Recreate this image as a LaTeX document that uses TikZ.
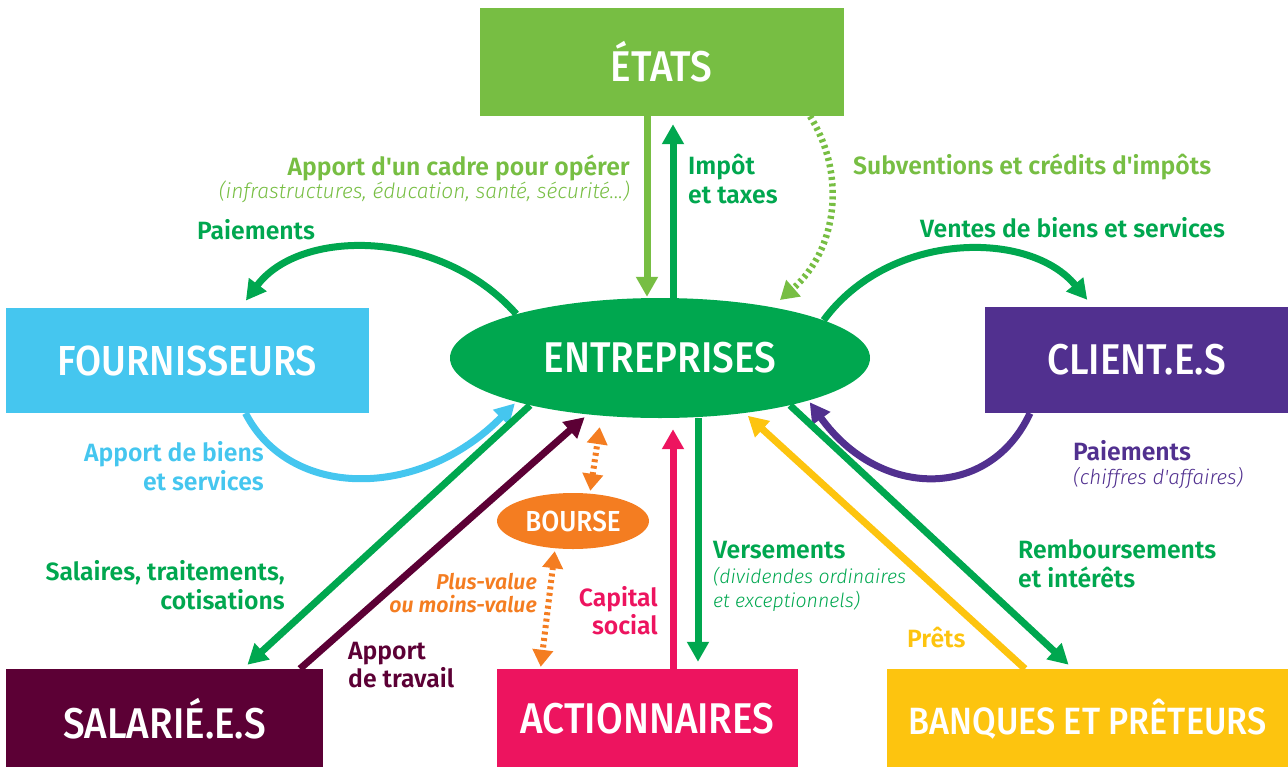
\documentclass[tikz,border=0pt]{standalone}
\usepackage{fontspec}
\setmainfont{Fira Sans}
\newfontfamily\boxf{Fira Sans Medium}[FakeStretch=0.9]
\newfontfamily\labf{Fira Sans SemiBold}[FakeStretch=0.99]
\newfontfamily\subf{Fira Sans Light Italic}[FakeStretch=1.0]
\usetikzlibrary{arrows.meta,shapes.geometric}
\definecolor{etatc}{HTML}{77BE43}
\definecolor{entc}{HTML}{00A74F}
\definecolor{fourc}{HTML}{45C6EF}
\definecolor{clic}{HTML}{51308F}
\definecolor{salc}{HTML}{5C0035}
\definecolor{actc}{HTML}{ED145F}
\definecolor{banc}{HTML}{FDC40F}
\definecolor{boursec}{HTML}{F47D21}
\begin{document}
\begin{tikzpicture}[x=1pt,y=-1pt,
  box/.style={rectangle, inner sep=0, text=white, font=\boxf\fontsize{43}{46}\selectfont},
  flow/.style={line width=7pt, -{Triangle[length=20pt,width=21pt]}},
  dflow/.style={line width=6.5pt, dash pattern=on 3pt off 3.5pt, -{Triangle[length=18pt,width=21pt]}},
  ddflow/.style={line width=6pt, dash pattern=on 3pt off 3.5pt, {Triangle[length=17pt,width=20pt]}-{Triangle[length=17pt,width=20pt]}},
  lab/.style={inner sep=0, font=\labf\fontsize{25}{28}\selectfont},
  sub/.style={inner sep=0, font=\subf\fontsize{19.5}{22}\selectfont}]
\useasboundingbox (0,0) rectangle (1288,766);

% boxes
\node[box, fill=etatc, minimum width=364pt, minimum height=108pt] (etats) at (661.5,62) {ÉTATS};
\node[box, fill=fourc, minimum width=363pt, minimum height=105pt, font=\boxf\fontsize{42}{46}\selectfont] (four) at (187.5,360.5) {FOURNISSEURS};
\node[box, fill=clic, minimum width=303pt, minimum height=106pt] (cli) at (1136.5,360) {CLIENT.E.S};
\node[box, fill=salc, minimum width=317pt, minimum height=100pt] (sal) at (164.5,719) {SALARIÉ.E.S};
\node[box, fill=actc, minimum width=301pt, minimum height=100pt] (act) at (647.5,719) {ACTIONNAIRES};
\node[box, fill=banc, minimum width=401pt, minimum height=100pt, font=\boxf\fontsize{38}{42}\selectfont] (ban) at (1087.5,719) {BANQUES ET PRÊTEURS};
\node[box, ellipse, fill=entc, minimum width=420pt, minimum height=120pt] (ent) at (660,358) {ENTREPRISES};
\node[box, ellipse, fill=boursec, minimum width=152pt, minimum height=56pt, font=\boxf\fontsize{29}{32}\selectfont] (bourse) at (573,521) {BOURSE};

% Etats <-> Entreprises
\draw[flow, etatc] ([xshift=-14.5pt]etats.south) -- ([xshift=-13pt,yshift=1pt]ent.north);
\draw[flow, entc] ([xshift=13pt]ent.north) -- ([xshift=11.5pt,yshift=-8pt]etats.south);
\coordinate (subtip) at (780,300);
\draw[dflow, etatc] ([xshift=148.5pt]etats.south) .. controls (847,175) and (837,250) .. (subtip);

% Fournisseurs
\draw[flow, entc, shorten >=9pt] (ent.163) .. controls (440,228) and (300,228) .. ([xshift=53pt]four.north);
\draw[flow, fourc, shorten >=2pt] ([xshift=58pt]four.south) .. controls (290,500) and (420,500) .. (ent.197);

% Clients
\draw[flow, entc, shorten >=9pt] (ent.13) .. controls (890,230) and (1030,230) .. ([xshift=-43.5pt]cli.north);
\draw[flow, clic, shorten >=2pt] ([xshift=-106.5pt]cli.south) .. controls (990,500) and (880,500) .. (ent.344);

% Salaries
\draw[flow, entc, shorten >=6pt] (ent.200) -- ([xshift=78.5pt]sal.north);
\draw[flow, salc, shorten >=4pt] ([xshift=135.5pt]sal.north) -- (ent.218);

% Actionnaires
\draw[flow, actc, shorten >=11pt] ([xshift=25.5pt]act.north) -- ([xshift=13pt]ent.south);
\draw[flow, entc, shorten >=7pt] ([xshift=38pt]ent.south) -- ([xshift=50.5pt]act.north);
\draw[ddflow, boursec, shorten <=2pt, shorten >=9pt] ([xshift=17pt]bourse.north) -- ([xshift=-59pt]ent.south);
\draw[ddflow, boursec, shorten <=2pt, shorten >=2pt] ([xshift=-18pt]bourse.south) -- ([xshift=-107pt]act.north);

% Banques
\draw[flow, banc, shorten >=4pt] ([xshift=-62.5pt]ban.north) -- (ent.327);
\draw[flow, entc, shorten >=6pt] (ent.340) -- ([xshift=-14.5pt]ban.north);

% labels
\node[lab, etatc, anchor=base east] (l1) at (630,175) {Apport d'un cadre pour opérer};
\node[sub, etatc, anchor=base east, font=\subf\fontsize{21}{24}\selectfont] (l1b) at (630,198) {(infrastructures, éducation, santé, sécurité...)};
\node[lab, entc, anchor=base west] (l2) at (688,174) {Impôt};
\node[lab, entc, anchor=base west] (l2b) at (688,203) {et taxes};
\node[lab, etatc, anchor=base west] (l3) at (853,174) {Subventions et crédits d'impôts};
\node[lab, entc, anchor=base west] (l4) at (197,239) {Paiements};
\node[lab, entc, anchor=base west] (l5) at (920,237) {Ventes de biens et services};
\node[lab, fourc, anchor=base east] (l6) at (264,461) {Apport de biens};
\node[lab, fourc, anchor=base east] (l6b) at (264,490) {et services};
\node[lab, clic, anchor=base west] (l7) at (1073,460) {Paiements};
\node[sub, clic, anchor=base west, font=\subf\fontsize{20.5}{23}\selectfont] (l7b) at (1073,484) {(chiffres d'affaires)};
\node[lab, entc, anchor=base east] (l8) at (285,580) {Salaires, traitements,};
\node[lab, entc, anchor=base east] (l8b) at (285,609) {cotisations};
\node[sub, boursec, anchor=base east, font=\labf\itshape\fontsize{21.5}{24}\selectfont] (l10) at (537,589) {Plus-value};
\node[sub, boursec, anchor=base east, font=\labf\itshape\fontsize{21.5}{24}\selectfont] (l10b) at (537,612) {ou moins-value};
\node[lab, salc, anchor=base west] (l9) at (348,659) {Apport};
\node[lab, salc, anchor=base west] (l9b) at (348,687) {de travail};
\node[lab, actc, anchor=base east] (l11) at (658,606) {Capital};
\node[lab, actc, anchor=base east] (l11b) at (658,634) {social};
\node[lab, entc, anchor=base west] (l12) at (713,558) {Versements};
\node[sub, entc, anchor=base west] (l12b) at (713,583) {(dividendes ordinaires};
\node[sub, entc, anchor=base west] (l12c) at (713,607) {et exceptionnels)};
\node[lab, entc, anchor=base west] (l13) at (1018,558) {Remboursements};
\node[lab, entc, anchor=base west] (l13b) at (1018,587) {et intérêts};
\node[lab, banc, anchor=base west] (l14) at (907,647) {Prêts};
\end{tikzpicture}
\end{document}
